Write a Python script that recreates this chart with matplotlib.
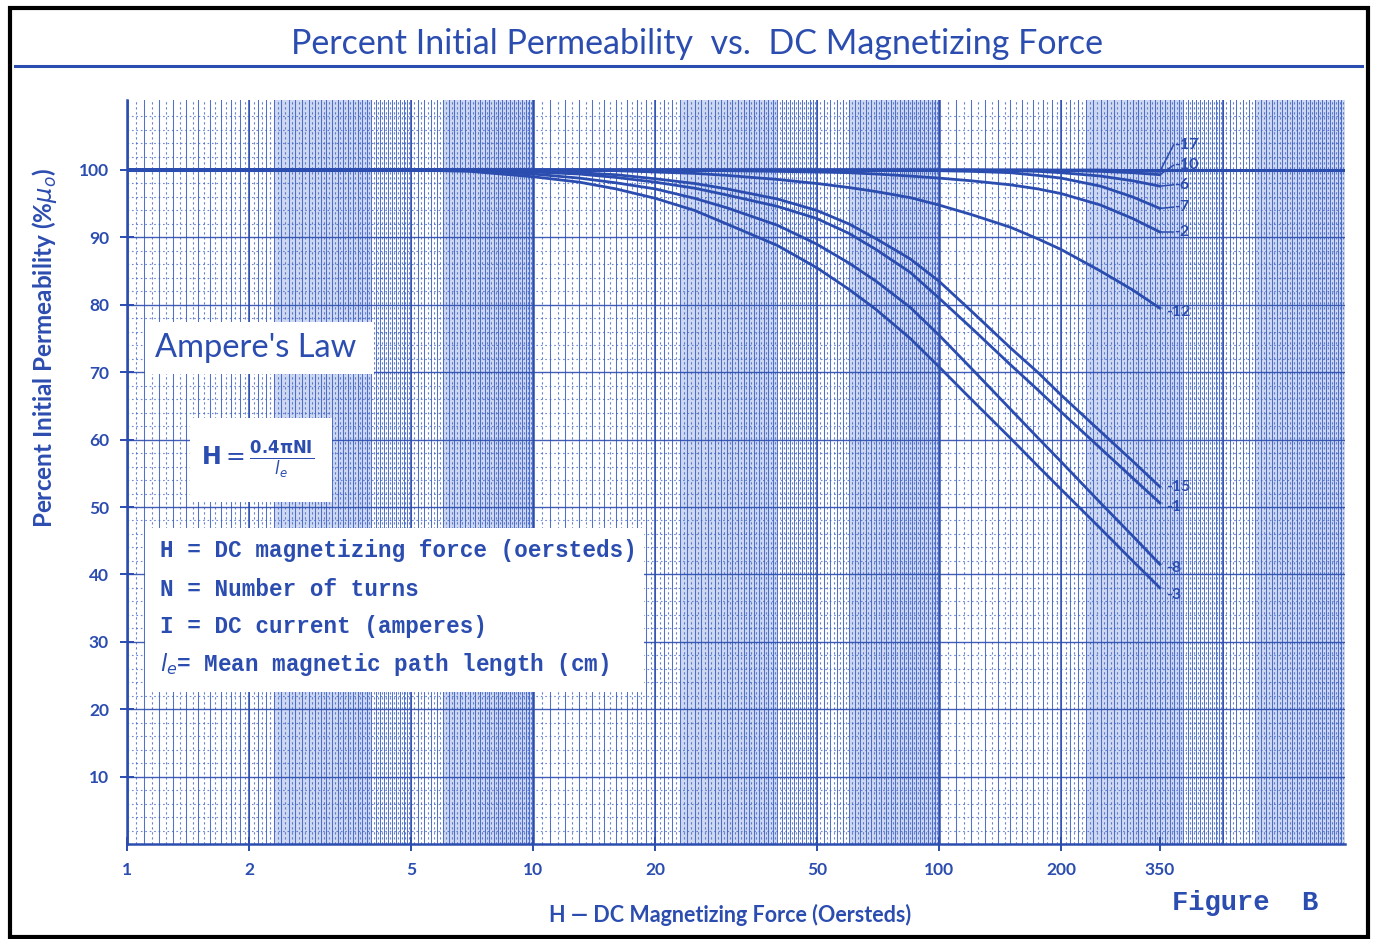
import numpy as np
import matplotlib.pyplot as plt
from matplotlib.patches import Rectangle
from matplotlib.lines import Line2D

# H values (oersteds) where the curves were read
H = [1, 5, 7, 10, 13, 16, 20, 25, 30, 40, 50, 60, 70, 85, 100, 120, 150, 175, 200, 250, 300, 350]

# percent of initial permeability, one list per mix
mix_17 = [100, 100, 100, 100, 100, 100, 100, 100, 100, 100, 100, 100, 100, 100, 100, 100, 100, 100, 100, 100, 99.9, 99.8]
mix_10 = [100, 100, 100, 100, 100, 100, 100, 100, 100, 100, 100, 100, 100, 100, 100, 100, 100, 100, 99.9, 99.8, 99.6, 99.3]
mix_6 = [100, 100, 100, 100, 100, 100, 100, 100, 100, 100, 100, 100, 100, 100, 100, 100, 99.9, 99.8, 99.6, 99.1, 98.4, 97.6]
mix_7 = [100, 100, 100, 100, 100, 100, 100, 100, 100, 100, 100, 100, 100, 100, 99.9, 99.8, 99.6, 99.2, 98.8, 97.6, 96.0, 94.3]
mix_2 = [100, 100, 100, 100, 100, 100, 100, 100, 99.9, 99.8, 99.7, 99.6, 99.4, 99.1, 98.8, 98.4, 97.8, 97.2, 96.5, 94.8, 92.8, 90.8]
mix_12 = [100, 100, 100, 100, 100, 99.9, 99.7, 99.5, 99.2, 98.6, 98.0, 97.4, 96.8, 95.9, 94.8, 93.4, 91.5, 89.8, 88.2, 85.0, 82.2, 79.5]
mix_15 = [100, 100, 100, 99.8, 99.6, 99.3, 98.7, 98.0, 97.2, 95.7, 94.0, 92.0, 89.8, 86.8, 83.5, 79.1, 73.6, 70.0, 66.6, 61.2, 56.8, 53.0]
mix_1 = [100, 100, 100, 99.7, 99.4, 98.9, 98.2, 97.3, 96.3, 94.6, 92.8, 90.6, 88.2, 84.8, 81.0, 76.6, 71.1, 67.4, 64.1, 58.7, 54.3, 50.6]
mix_8 = [100, 100, 99.9, 99.4, 98.8, 98.1, 97.2, 95.8, 94.4, 91.8, 89.0, 86.2, 83.5, 79.6, 75.5, 70.6, 64.5, 60.3, 56.7, 50.6, 45.7, 41.5]
mix_3 = [100, 100, 99.8, 99.0, 98.2, 97.2, 95.8, 94.0, 92.0, 88.8, 85.5, 82.3, 79.3, 75.0, 70.8, 66.0, 60.2, 56.1, 52.6, 46.8, 42.0, 38.0]

curve_names = ['-17', '-10', '-6', '-7', '-2', '-12', '-15', '-1', '-8', '-3']
curves = [mix_17, mix_10, mix_6, mix_7, mix_2, mix_12, mix_15, mix_1, mix_8, mix_3]
# where each curve name sits (percent)
label_y = [103.7, 100.7, 97.8, 94.5, 90.8, 79.0, 53.0, 50.0, 41.0, 37.0]

x_ticks = [1, 2, 5, 10, 20, 50, 100, 200, 350]
y_ticks = [10, 20, 30, 40, 50, 60, 70, 80, 90, 100]

BLUE = '#2c4db0'
GRID = '#3e63c6'

W, HT = 1375, 939
fig = plt.figure(figsize=(W / 100, HT / 100), dpi=100)

# axes box in pixels of the original picture
x0, x1, y0, y1 = 127, 1345, 844, 100
ax = fig.add_axes([x0 / W, 1 - y0 / HT, (x1 - x0) / W, (y0 - y1) / HT])
ax.set_xscale('log')
ax.set_xlim(1, 1000)
ax.set_ylim(0, (y0 - y1) / 6.74)


def axfrac(px, py):
    return (px - x0) / (x1 - x0), (y0 - py) / (y0 - y1)


# graph paper look: darker bands where lines get crowded
for a, b in [(2.3, 4), (6, 10)]:
    for dec in [1, 10, 100]:
        ax.axvspan(a * dec, b * dec, color='#aebfe9', alpha=0.6, lw=0, zorder=0)

for dec in [1, 10, 100]:
    solid = np.concatenate([np.arange(1, 2, 0.1), np.arange(2, 5, 0.1), np.arange(5, 10, 0.2)]) * dec
    dotted = np.concatenate([np.arange(1.05, 2, 0.1), np.arange(2.05, 5, 0.1), np.arange(5.1, 10, 0.2)]) * dec
    for v in solid:
        ax.axvline(v, color=GRID, lw=0.75, alpha=0.9, zorder=1)
    for v in dotted:
        ax.axvline(v, color=GRID, lw=0.8, ls=(0, (2, 2.5)), alpha=0.8, zorder=1)
    for m, lw in [(1, 1.8), (2, 1.1), (5, 1.1)]:
        ax.axvline(m * dec, color=BLUE, lw=lw, zorder=1)

for v in np.arange(2, 110, 2):
    if v % 10 == 0:
        ax.axhline(v, color=BLUE, lw=1.0, alpha=0.9, zorder=1)
    else:
        ax.axhline(v, color=GRID, lw=0.8, ls=(0, (1.5, 2.5)), alpha=0.75, zorder=1)
ax.axhline(100, color=BLUE, lw=2.2, zorder=2)

# white boxes for the notes
for bx0, by0, bx1, by1 in [(145, 322, 374, 374), (190, 418, 332, 502), (145, 528, 644, 692)]:
    fx0, fy0 = axfrac(bx0, by1)
    fx1, fy1 = axfrac(bx1, by0)
    ax.add_patch(Rectangle((fx0, fy0), fx1 - fx0, fy1 - fy0, transform=ax.transAxes,
                           facecolor='white', edgecolor='none', zorder=3))

for name, vals, ly in zip(curve_names, curves, label_y):
    ax.plot(H, vals, color=BLUE, lw=2.0, zorder=4, solid_joinstyle='round')
    if ly > 85:
        ax.plot([H[-1], 378], [vals[-1], ly], color=BLUE, lw=1.1, zorder=4)
        ax.text(380, ly, name, color=BLUE, fontsize=11.5, fontweight='bold',
                va='center', ha='left', family='Lato', zorder=5)
    else:
        ax.text(362, ly, name, color=BLUE, fontsize=11.5, fontweight='bold',
                va='center', ha='left', family='Lato', zorder=5)

ax.set_xticks(x_ticks)
ax.set_xticklabels([str(t) for t in x_ticks])
ax.set_yticks(y_ticks)
ax.set_yticklabels([str(t) for t in y_ticks])
ax.minorticks_off()
ax.tick_params(axis='both', direction='inout', length=10, width=1.4, color=BLUE,
               labelcolor=BLUE, labelsize=12.5, pad=8)
for lab in ax.get_xticklabels() + ax.get_yticklabels():
    lab.set_fontweight('bold')
    lab.set_family('Lato')
for s in ['top', 'right']:
    ax.spines[s].set_visible(False)
for s in ['left', 'bottom']:
    ax.spines[s].set_color(BLUE)
    ax.spines[s].set_linewidth(1.8)

# notes inside the plot
tx, ty = axfrac(155, 348)
ax.text(tx, ty, "Ampere's Law", transform=ax.transAxes, fontsize=23.5, family='Lato',
        color=BLUE, va='center', ha='left', zorder=5)
tx, ty = axfrac(258, 460)
ax.text(tx, ty, r'$\mathbf{H} = \frac{\mathbf{0.4\pi NI}}{l_e}$', transform=ax.transAxes,
        fontsize=17, color=BLUE, va='center', ha='center', zorder=5)
legend_lines = ['H = DC magnetizing force (oersteds)',
                'N = Number of turns',
                'I = DC current (amperes)',
                r'$l_e$= Mean magnetic path length (cm)']
for i, line in enumerate(legend_lines):
    tx, ty = axfrac(160, 551 + 38 * i)
    ax.text(tx, ty, line, transform=ax.transAxes, fontsize=16.3, family='Liberation Mono',
            fontweight='bold', color=BLUE, va='center', ha='left', zorder=5)

fig.text(697 / W, 1 - 44 / HT, 'Percent Initial Permeability  vs.  DC Magnetizing Force',
         fontsize=24.5, family='Lato', color=BLUE, ha='center', va='center')
fig.add_artist(Line2D([15 / W, 1362 / W], [1 - 66 / HT, 1 - 66 / HT], color=BLUE, lw=2.2))
fig.text(730 / W, 1 - 915 / HT, 'H \u2014 DC Magnetizing Force (Oersteds)', fontsize=15.5,
         family='Lato', fontweight='bold', color=BLUE, ha='center', va='center')
fig.text(45 / W, 1 - 348 / HT, 'Percent Initial Permeability (%$\\mu_o$)', fontsize=17.5,
         family='Lato', fontweight='bold', color=BLUE, ha='center', va='center', rotation=90)
fig.text(1245 / W, 1 - 903 / HT, 'Figure  B', fontsize=19.5, family='Liberation Mono',
         fontweight='bold', color=BLUE, ha='center', va='center')

fig.add_artist(Rectangle((10 / W, 1 - 937 / HT), 1358 / W, 929 / HT, transform=fig.transFigure,
                         fill=False, edgecolor='black', lw=3))

fig.savefig('out.png', dpi=100)
